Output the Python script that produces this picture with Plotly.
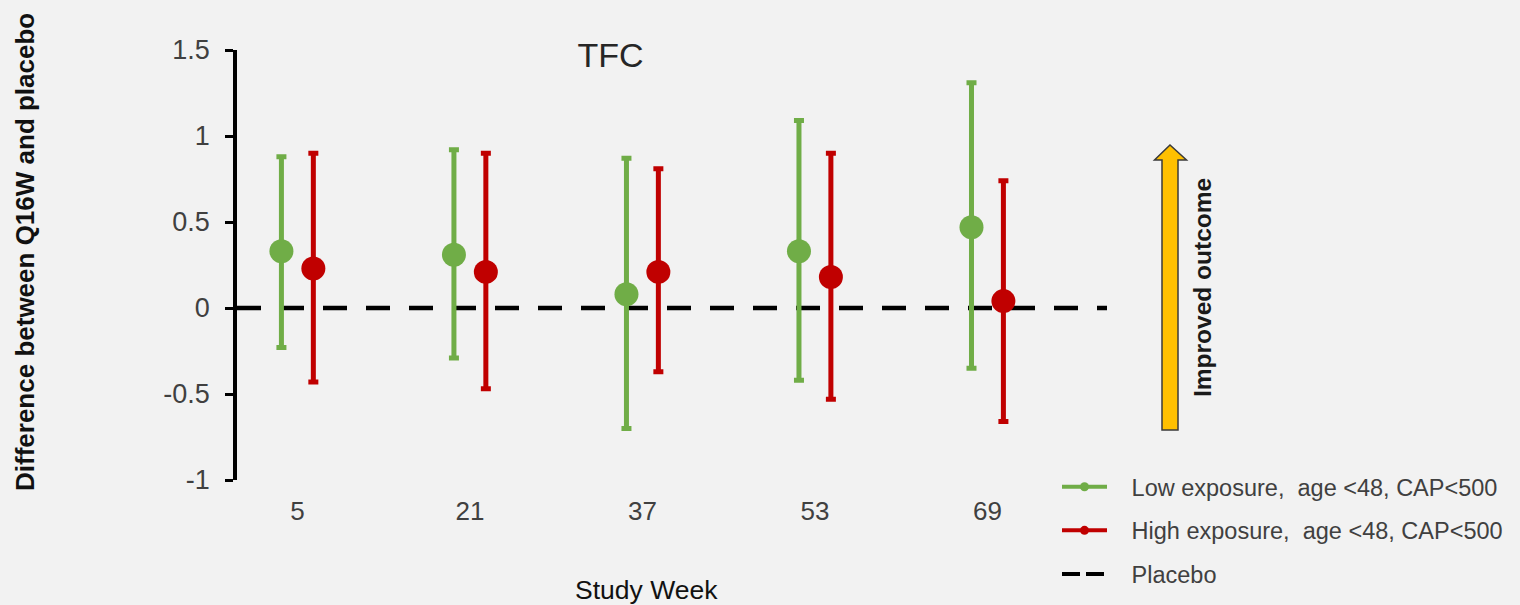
import plotly.graph_objects as go

# ---- data ----
weeks = ["5", "21", "37", "53", "69"]
low_mean = [0.33, 0.31, 0.08, 0.33, 0.47]
low_upper = [0.88, 0.92, 0.87, 1.09, 1.31]
low_lower = [-0.23, -0.29, -0.70, -0.42, -0.35]
high_mean = [0.23, 0.21, 0.21, 0.18, 0.04]
high_upper = [0.90, 0.90, 0.81, 0.90, 0.74]
high_lower = [-0.43, -0.47, -0.37, -0.53, -0.66]
placebo_level = 0
y_ticks = [-1, -0.5, 0, 0.5, 1, 1.5]
y_ticktext = ["-1", "-0.5", "0", "0.5", "1", "1.5"]

names = ["Low exposure,  age <48, CAP<500", "High exposure,  age <48, CAP<500", "Placebo"]
GREEN = "#70AD47"
RED = "#C00000"
FONT = "Liberation Sans, Arial, sans-serif"
PAD = "\u00a0\u00a0\u00a0"  # gap between legend symbol and text

# layout geometry (pixels)
W, H = 1520, 605
L, R, T, B = 237, 1107, 50, 480


def px(x):
    return (x - L) / (R - L)


def py(y):
    return (B - y) / (B - T)


fig = go.Figure()


def add_series(mean, upper, lower, color, name, group):
    fig.add_trace(go.Scatter(
        x=weeks, y=mean, mode="markers", name=name, showlegend=False,
        offsetgroup=group,
        marker=dict(size=24, color=color),
        error_y=dict(type="data", symmetric=False,
                     array=[u - m for u, m in zip(upper, mean)],
                     arrayminus=[m - l for m, l in zip(mean, lower)],
                     color=color, thickness=5, width=5),
    ))


add_series(low_mean, low_upper, low_lower, GREEN, names[0], "low")
add_series(high_mean, high_upper, high_lower, RED, names[1], "high")

# legend entries
fig.add_trace(go.Scatter(x=[None], y=[None], mode="lines+markers", name=PAD + names[0],
                         legendgroup="a", line=dict(color=GREEN, width=4),
                         marker=dict(size=9, color=GREEN)))
fig.add_trace(go.Scatter(x=[None], y=[None], mode="lines+markers", name=PAD + names[1],
                         legendgroup="b", line=dict(color=RED, width=4),
                         marker=dict(size=9, color=RED)))
fig.add_trace(go.Scatter(x=[None], y=[None], mode="lines", name=PAD + names[2],
                         legendgroup="c", line=dict(color="black", width=4, dash="18px,6px")))

# placebo dashed reference line
fig.add_shape(type="line", xref="paper", x0=0, x1=1, yref="y", y0=placebo_level, y1=placebo_level,
              line=dict(color="black", width=4.5, dash="24px,19px"), layer="below")

# improved-outcome arrow
pts = [(1162, 430), (1162, 160), (1154.5, 160), (1170, 145), (1186.5, 160), (1178, 160), (1178, 430)]
path = "M " + " L ".join(f"{px(a):.5f},{py(b):.5f}" for a, b in pts) + " Z"
fig.add_shape(type="path", xref="paper", yref="paper", path=path,
              fillcolor="#FFC000", line=dict(color="#3a3a3a", width=1.5), layer="above")

fig.add_annotation(text="<b>Improved outcome</b>", xref="paper", yref="paper",
                   x=px(1202), y=py(288), textangle=-90, showarrow=False,
                   xanchor="center", yanchor="middle",
                   font=dict(family=FONT, size=24.5, color="#1a1a1a"))
fig.add_annotation(text="<b>Difference between Q16W and placebo</b>", xref="paper", yref="paper",
                   x=px(25), y=py(252), textangle=-90, showarrow=False,
                   xanchor="center", yanchor="middle",
                   font=dict(family=FONT, size=26, color="#111111"))
fig.add_annotation(text="Study Week", xref="paper", yref="paper",
                   x=px(646), y=py(590), showarrow=False,
                   xanchor="center", yanchor="middle",
                   font=dict(family=FONT, size=26.5, color="#111111"))

fig.update_layout(
    width=W, height=H, autosize=False,
    margin=dict(l=L, r=W - R, t=T, b=H - B, autoexpand=False),
    paper_bgcolor="#f2f2f2", plot_bgcolor="#f2f2f2",
    scattermode="group", scattergap=0.63,
    font=dict(family=FONT, color="#404040"),
    title=dict(text="TFC", x=610.5 / W, y=1 - 55 / H, xanchor="center", yanchor="middle",
               xref="container", yref="container",
               font=dict(family=FONT, size=34, color="#262626")),
    legend=dict(x=px(1057), y=py(465), xanchor="left", yanchor="top",
                bgcolor="rgba(0,0,0,0)", itemwidth=45, tracegroupgap=10,
                font=dict(family=FONT, size=23.5, color="#404040")),
    xaxis=dict(type="category", categoryorder="array", categoryarray=weeks,
               range=[-0.35, 4.693], showline=False, showgrid=False, zeroline=False,
               ticks="", tickfont=dict(size=26), ticklabelstandoff=13, automargin=False),
    yaxis=dict(range=[-1, 1.5], tickvals=y_ticks, ticktext=y_ticktext,
               showline=True, linecolor="black", linewidth=3.5,
               ticks="outside", ticklen=8, tickwidth=3, tickcolor="black",
               showgrid=False, zeroline=False, tickfont=dict(size=27), ticklabelstandoff=10,
               automargin=False),
)

fig.write_html(
    "out.html",
    config={"responsive": False, "displayModeBar": False},
    post_script="document.body.style.margin='0';document.body.style.background='#f2f2f2';",
)
